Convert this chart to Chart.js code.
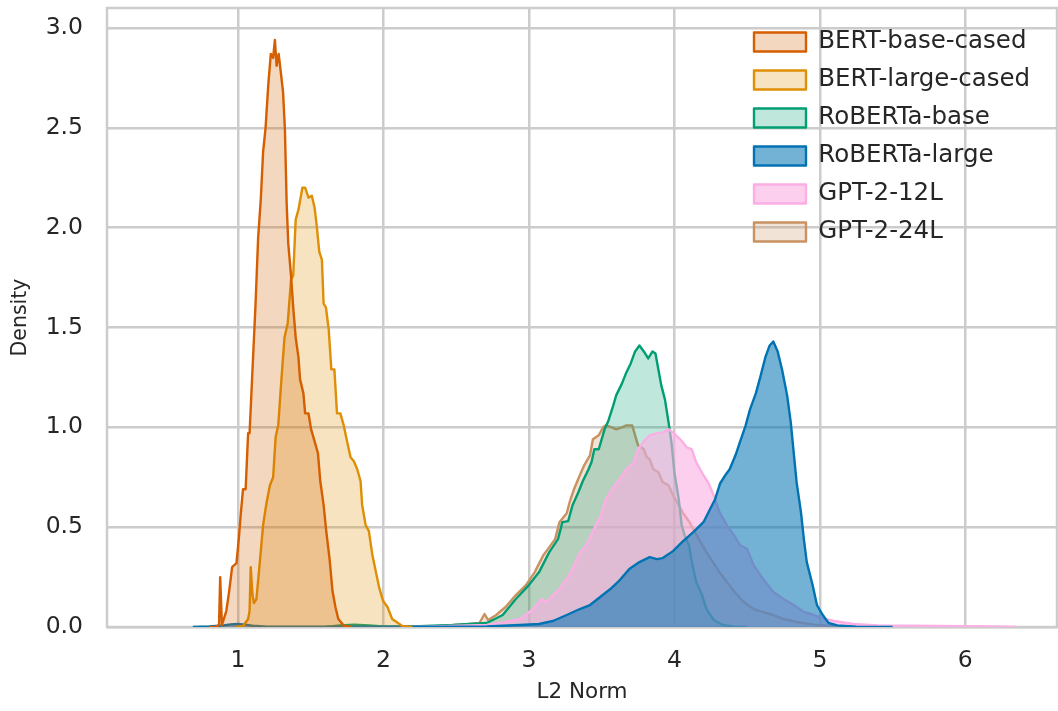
<!DOCTYPE html>
<html lang="en">
<head>
  <meta charset="UTF-8">
  <title>L2 Norm Density</title>
  <script src="https://cdn.jsdelivr.net/npm/chart.js@4.4.3/dist/chart.umd.min.js"></script>
  <style>
    body { margin: 0; background: #fff; }
    canvas { display: block; }
  </style>
</head>
<body>
  <canvas id="normChart" width="1058" height="711"></canvas>

  <script>
    // values (x = L2 norm, y = density)
    const bertBaseX = [0.80, 0.85, 0.87, 0.878, 0.89, 0.92, 0.94, 0.96, 0.99, 1.007, 1.02, 1.035, 1.053, 1.07, 1.08, 1.104, 1.12, 1.139, 1.157, 1.173, 1.19, 1.208, 1.226, 1.242, 1.254, 1.266, 1.28, 1.296, 1.31, 1.323, 1.335, 1.346, 1.365, 1.38, 1.397, 1.416, 1.427, 1.45, 1.462, 1.485, 1.503, 1.527, 1.55, 1.566, 1.589, 1.607, 1.63, 1.65, 1.67, 1.69, 1.73, 1.78];
    const bertBaseY = [0, 0.002, 0.01, 0.25, 0.01, 0.08, 0.18, 0.30, 0.32, 0.45, 0.57, 0.69, 0.69, 0.97, 0.97, 1.35, 1.60, 1.95, 2.14, 2.38, 2.50, 2.71, 2.87, 2.85, 2.94, 2.81, 2.87, 2.77, 2.68, 2.49, 2.12, 1.92, 1.76, 1.60, 1.45, 1.35, 1.24, 1.17, 1.07, 1.07, 0.99, 0.93, 0.87, 0.73, 0.61, 0.48, 0.34, 0.18, 0.10, 0.04, 0.005, 0];

    const bertLargeX = [0.98, 1.035, 1.07, 1.08, 1.088, 1.10, 1.11, 1.127, 1.15, 1.173, 1.196, 1.22, 1.242, 1.259, 1.277, 1.30, 1.32, 1.342, 1.365, 1.38, 1.397, 1.416, 1.443, 1.462, 1.485, 1.508, 1.527, 1.543, 1.559, 1.577, 1.589, 1.605, 1.624, 1.642, 1.663, 1.681, 1.704, 1.727, 1.75, 1.774, 1.797, 1.82, 1.843, 1.854, 1.878, 1.90, 1.924, 1.947, 1.97, 1.998, 2.028, 2.06, 2.10, 2.13, 2.20];
    const bertLargeY = [0, 0.005, 0.04, 0.08, 0.30, 0.16, 0.12, 0.14, 0.32, 0.51, 0.62, 0.71, 0.75, 0.95, 1.01, 1.25, 1.45, 1.52, 1.74, 1.76, 2.04, 2.09, 2.20, 2.20, 2.15, 2.16, 2.10, 2.00, 1.88, 1.84, 1.62, 1.60, 1.49, 1.29, 1.29, 1.07, 1.07, 1.01, 0.93, 0.85, 0.83, 0.79, 0.73, 0.61, 0.51, 0.48, 0.36, 0.28, 0.20, 0.13, 0.10, 0.04, 0.02, 0.005, 0];

    const robertaBaseX = [1.60, 1.70, 1.80, 1.90, 2.00, 2.20, 2.48, 2.59, 2.71, 2.82, 2.91, 3.0, 3.07, 3.14, 3.20, 3.23, 3.27, 3.30, 3.34, 3.37, 3.41, 3.43, 3.45, 3.48, 3.50, 3.52, 3.545, 3.58, 3.60, 3.64, 3.67, 3.70, 3.73, 3.76, 3.79, 3.82, 3.85, 3.87, 3.89, 3.91, 3.935, 3.96, 3.98, 4.00, 4.03, 4.05, 4.07, 4.10, 4.12, 4.15, 4.19, 4.22, 4.27, 4.33, 4.41, 4.50];
    const robertaBaseY = [0, 0.008, 0.012, 0.008, 0.003, 0.003, 0.01, 0.015, 0.02, 0.06, 0.14, 0.21, 0.275, 0.375, 0.44, 0.525, 0.53, 0.61, 0.675, 0.73, 0.79, 0.825, 0.89, 0.89, 0.94, 0.99, 1.03, 1.11, 1.16, 1.22, 1.275, 1.32, 1.38, 1.41, 1.38, 1.345, 1.38, 1.37, 1.29, 1.21, 1.14, 1.025, 0.925, 0.775, 0.64, 0.51, 0.46, 0.41, 0.325, 0.225, 0.16, 0.09, 0.035, 0.01, 0.002, 0];

    const robertaLargeX = [0.69, 0.80, 0.90, 0.95, 1.00, 1.05, 1.10, 1.20, 1.50, 2.00, 2.50, 2.71, 2.94, 3.07, 3.165, 3.26, 3.35, 3.42, 3.49, 3.56, 3.625, 3.69, 3.76, 3.83, 3.88, 3.92, 3.99, 4.06, 4.13, 4.20, 4.245, 4.28, 4.315, 4.35, 4.38, 4.42, 4.45, 4.49, 4.52, 4.56, 4.59, 4.625, 4.655, 4.68, 4.71, 4.74, 4.775, 4.80, 4.82, 4.84, 4.87, 4.89, 4.91, 4.95, 4.98, 5.02, 5.06, 5.12, 5.25, 5.50];
    const robertaLargeY = [0, 0.003, 0.008, 0.013, 0.015, 0.012, 0.006, 0.002, 0.001, 0.001, 0.002, 0.003, 0.01, 0.015, 0.03, 0.06, 0.09, 0.11, 0.15, 0.19, 0.235, 0.29, 0.325, 0.35, 0.34, 0.345, 0.38, 0.43, 0.475, 0.525, 0.59, 0.64, 0.72, 0.76, 0.79, 0.86, 0.925, 1.01, 1.09, 1.17, 1.25, 1.35, 1.41, 1.43, 1.38, 1.29, 1.16, 1.025, 0.875, 0.725, 0.575, 0.44, 0.325, 0.21, 0.11, 0.06, 0.02, 0.008, 0.002, 0];

    const gpt12X = [2.20, 2.71, 2.84, 2.94, 3.03, 3.085, 3.12, 3.165, 3.21, 3.26, 3.30, 3.35, 3.395, 3.44, 3.49, 3.53, 3.58, 3.625, 3.67, 3.72, 3.75, 3.79, 3.83, 3.88, 3.92, 3.96, 3.99, 4.04, 4.085, 4.12, 4.15, 4.20, 4.235, 4.27, 4.31, 4.36, 4.41, 4.45, 4.50, 4.545, 4.61, 4.68, 4.75, 4.82, 4.89, 4.96, 5.03, 5.10, 5.23, 5.40, 5.60, 5.80, 6.00, 6.20, 6.35];
    const gpt12Y = [0, 0.01, 0.025, 0.04, 0.09, 0.14, 0.125, 0.16, 0.19, 0.24, 0.29, 0.37, 0.41, 0.48, 0.55, 0.64, 0.70, 0.74, 0.79, 0.825, 0.89, 0.93, 0.96, 0.97, 0.975, 0.99, 0.975, 0.94, 0.90, 0.89, 0.825, 0.76, 0.72, 0.66, 0.575, 0.51, 0.46, 0.41, 0.39, 0.31, 0.24, 0.175, 0.14, 0.11, 0.075, 0.06, 0.04, 0.03, 0.015, 0.008, 0.006, 0.005, 0.004, 0.003, 0];

    const gpt24X = [2.30, 2.48, 2.59, 2.66, 2.695, 2.72, 2.775, 2.84, 2.91, 2.98, 3.04, 3.10, 3.14, 3.18, 3.21, 3.26, 3.28, 3.31, 3.35, 3.38, 3.42, 3.44, 3.48, 3.51, 3.53, 3.57, 3.60, 3.64, 3.67, 3.71, 3.73, 3.75, 3.79, 3.81, 3.83, 3.855, 3.89, 3.92, 3.96, 3.99, 4.03, 4.06, 4.10, 4.13, 4.18, 4.22, 4.27, 4.31, 4.36, 4.42, 4.475, 4.545, 4.61, 4.68, 4.75, 4.84, 4.96, 5.07, 5.25];
    const gpt24Y = [0, 0.01, 0.015, 0.02, 0.065, 0.035, 0.06, 0.10, 0.16, 0.21, 0.275, 0.36, 0.40, 0.44, 0.525, 0.57, 0.625, 0.69, 0.76, 0.81, 0.86, 0.94, 0.96, 1.00, 1.01, 1.00, 0.99, 1.00, 1.01, 1.01, 0.96, 0.91, 0.89, 0.85, 0.84, 0.79, 0.775, 0.725, 0.71, 0.66, 0.61, 0.57, 0.53, 0.49, 0.425, 0.375, 0.32, 0.275, 0.225, 0.17, 0.125, 0.09, 0.075, 0.06, 0.04, 0.025, 0.012, 0.005, 0];

    const xTicks = [1, 2, 3, 4, 5, 6];
    const yTicks = [0, 0.5, 1.0, 1.5, 2.0, 2.5, 3.0];

    const FONT = 'DejaVu Sans';
    const TEXT = '#262626';
    const GRID = '#cccccc';

    const pts = (xs, ys) => xs.map((x, i) => ({ x: x, y: ys[i] }));

    function series(label, xs, ys, rgb, alpha, order) {
      return {
        label: label,
        data: pts(xs, ys),
        borderColor: 'rgb(' + rgb + ')',
        backgroundColor: 'rgba(' + rgb + ',' + alpha + ')',
        borderWidth: 2.4,
        borderJoinStyle: 'round',
        pointRadius: 0,
        tension: 0,
        fill: 'origin',
        order: order
      };
    }

    // grey frame round the plot area, under the curves
    const framePlugin = {
      id: 'frame',
      beforeDatasetsDraw(chart) {
        const { ctx, chartArea: a } = chart;
        ctx.save();
        ctx.strokeStyle = GRID;
        ctx.lineWidth = 2.5;
        ctx.strokeRect(a.left, a.top, a.right - a.left, a.bottom - a.top);
        ctx.restore();
      }
    };

    // move the in-plot legend to the top right corner
    const legendPlace = {
      id: 'legendPlace',
      afterLayout(chart) {
        const lg = chart.legend, a = chart.chartArea;
        const w = lg.width, h = lg.height;
        lg.left = a.right - 316.5;
        lg.right = lg.left + w;
        lg.top = a.top + 8.2;
        lg.bottom = lg.top + h;
      }
    };

    new Chart(document.getElementById('normChart'), {
      type: 'line',
      data: {
        datasets: [
          series('BERT-base-cased', bertBaseX, bertBaseY, '213,94,0', 0.25, 0),
          series('BERT-large-cased', bertLargeX, bertLargeY, '222,143,5', 0.25, 1),
          series('RoBERTa-base', robertaBaseX, robertaBaseY, '2,158,115', 0.25, 4),
          series('RoBERTa-large', robertaLargeX, robertaLargeY, '1,115,178', 0.55, 2),
          series('GPT-2-12L', gpt12X, gpt12Y, '251,175,228', 0.6, 3),
          series('GPT-2-24L', gpt24X, gpt24Y, '202,145,97', 0.25, 5)
        ]
      },
      options: {
        responsive: false,
        animation: false,
        devicePixelRatio: 1,
        layout: { padding: { top: 8, right: 1, left: 0, bottom: 0 } },
        plugins: {
          tooltip: { enabled: false },
          legend: {
            position: 'chartArea',
            align: 'start',
            labels: {
              boxWidth: 52,
              boxHeight: 19,
              padding: 13.5,
              color: TEXT,
              font: { family: FONT, size: 24.5 },
              sort: (a, b) => a.datasetIndex - b.datasetIndex
            }
          }
        },
        scales: {
          x: {
            type: 'linear',
            min: 0.1,
            max: 6.63,
            afterFit(s) { s.height = 84; s.paddingLeft = 0; s.paddingRight = 0; },
            afterBuildTicks(s) { s.ticks = xTicks.map(v => ({ value: v })); },
            grid: { color: GRID, lineWidth: 2.5, drawTicks: false },
            border: { display: false },
            ticks: { padding: 20, color: TEXT, font: { family: FONT, size: 23.5 }, callback: v => String(v) },
            title: { display: true, text: 'L2 Norm', color: TEXT, font: { family: FONT, size: 21.5 }, padding: { top: 0, bottom: 6 } }
          },
          y: {
            min: 0,
            max: 3.1,
            afterFit(s) { s.width = 107; s.paddingTop = 0; s.paddingBottom = 0; },
            afterBuildTicks(s) { s.ticks = yTicks.map(v => ({ value: v })); },
            grid: { color: GRID, lineWidth: 2.5, drawTicks: false },
            border: { display: false },
            ticks: { padding: 24, color: TEXT, font: { family: FONT, size: 23.5 }, callback: v => v.toFixed(1) },
            title: { display: true, text: 'Density', color: TEXT, font: { family: FONT, size: 20.5 }, padding: { top: 8, bottom: 0 } }
          }
        }
      },
      plugins: [framePlugin, legendPlace]
    });
  </script>
</body>
</html>
